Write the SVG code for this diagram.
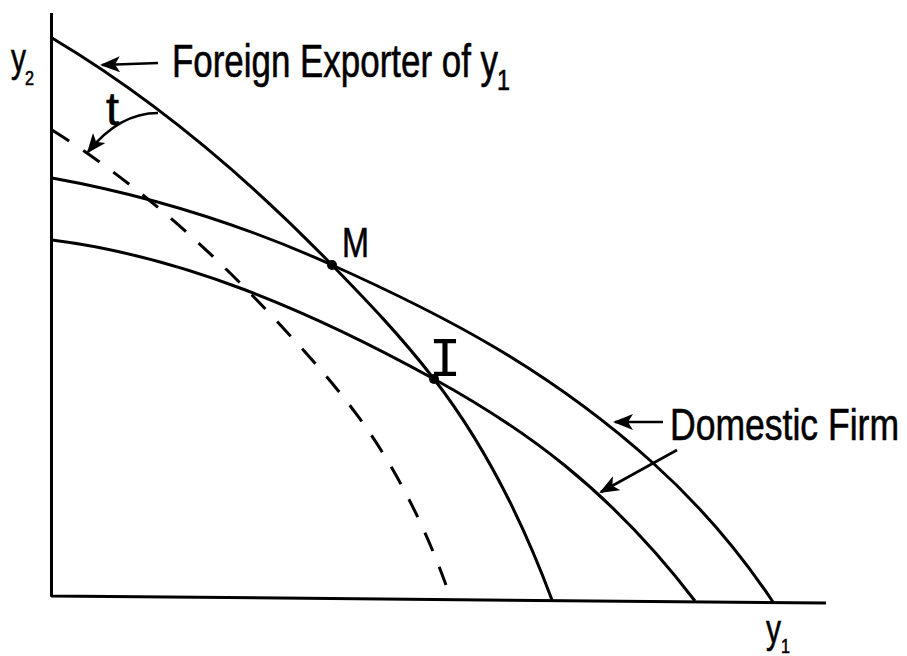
<svg xmlns="http://www.w3.org/2000/svg" width="907" height="656" viewBox="0 0 907 656">
<style>
.ln{fill:none;stroke:#000;stroke-width:3;stroke-linejoin:round}
.ds{fill:none;stroke:#000;stroke-width:3;stroke-dasharray:20 17}
.ar{fill:none;stroke:#000;stroke-width:2.6;marker-end:url(#ah)}
.tx{font-family:"Liberation Sans",Arial,sans-serif;fill:#000;stroke:#000;stroke-width:0.6}
.dot{fill:#000}
</style>
<defs>
<marker id="ah" viewBox="0 0 20 16" markerWidth="20" markerHeight="16" refX="18" refY="8" orient="auto" markerUnits="userSpaceOnUse">
<path d="M0,0 L20,8 L0,16 L5,8 Z" fill="#000"/>
</marker>
</defs>
<rect width="907" height="656" fill="#fff"/>
<g id="axes">
<path class="ln" d="M51.5,13 L51.5,596 L826,603"/>
<text class="tx" x="11" y="72" font-size="40" textLength="15" lengthAdjust="spacingAndGlyphs">y</text>
<text class="tx" x="25" y="85" font-size="20" textLength="9" lengthAdjust="spacingAndGlyphs">2</text>
<text class="tx" x="766" y="643" font-size="40" textLength="15" lengthAdjust="spacingAndGlyphs">y</text>
<text class="tx" x="781" y="653" font-size="20" textLength="9" lengthAdjust="spacingAndGlyphs">1</text>
</g>
<g id="foreign-curve">
<path class="ln" d="M52,38 C146,94 239,169 332,265 C366,300 400,335 434,379 C485,445 523,522 552,600"/>
</g>
<g id="foreign-shifted">
<path class="ds" d="M52.4,130.2 C126.8,177 201.2,239.7 275.6,319.9 C302.8,349.2 330,378.5 357.2,415.2 C398,470.4 426,530 446,585"/>
</g>
<g id="domestic-outer">
<path class="ln" d="M52,178 C146,195 239,223 332,265 C439,313 546,367 653,463 C693,499 733,542 773,602"/>
</g>
<g id="domestic-inner">
<path class="ln" d="M52,240 C180,256 307,309 434,379 C521,427 608,487 695,601"/>
</g>
<g id="point-M">
<circle class="dot" cx="332" cy="265" r="5"/>
<text class="tx" x="342" y="257" font-size="42" textLength="27" lengthAdjust="spacingAndGlyphs">M</text>
</g>
<g id="point-I">
<circle class="dot" cx="434" cy="379" r="5"/>
<text x="445" y="376" font-size="55" text-anchor="middle" font-family="'Liberation Mono','Courier New',monospace">I</text>
</g>
<g id="label-foreign">
<text class="tx" x="172" y="77" font-size="46" textLength="326" lengthAdjust="spacingAndGlyphs">Foreign Exporter of y</text>
<text class="tx" x="497" y="90" font-size="29" textLength="13" lengthAdjust="spacingAndGlyphs">1</text>
</g>
<g id="label-t">
<text class="tx" x="106" y="125" font-size="46" textLength="13" lengthAdjust="spacingAndGlyphs">t</text>
</g>
<g id="label-domestic">
<text class="tx" x="670" y="440" font-size="45" textLength="229" lengthAdjust="spacingAndGlyphs">Domestic Firm</text>
</g>
<g id="connectors">
<path class="ar" d="M158,63 L102,65"/>
<path class="ar" d="M158,113 C132,113 108,127 88,152"/>
<path class="ar" d="M663,422 L615,422"/>
<path class="ar" d="M677,450 L601,492"/>
</g>
</svg>
